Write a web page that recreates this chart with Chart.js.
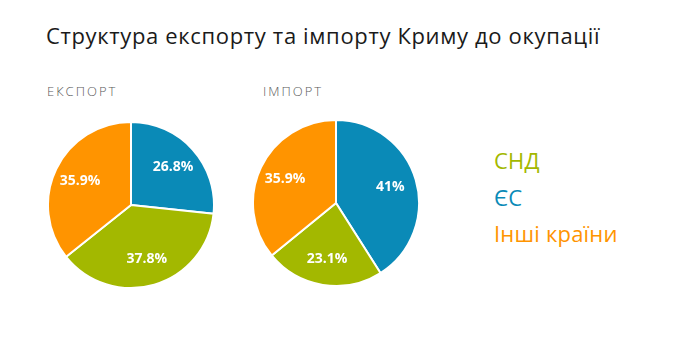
<!DOCTYPE html>
<html lang="uk">
<head>
<meta charset="utf-8">
<script src="https://cdn.jsdelivr.net/npm/chart.js@4/dist/chart.umd.min.js"></script>
<style>
  html, body { margin: 0; padding: 0; background: #fff; }
  body { width: 690px; height: 343px; position: relative; overflow: hidden; font-family: "Open Sans", "Noto Sans", sans-serif; }
  .title { position: absolute; left: 46px; top: 20px; font-size: 22px; font-weight: 500; color: #1a1a1a; white-space: nowrap; letter-spacing: 0.65px; }
  .sub { position: absolute; top: 82px; font-size: 13px; font-weight: 300; color: #5a5a5a; letter-spacing: 2px; }
  .pie { position: absolute; width: 168px; height: 168px; }
  .legend { position: absolute; left: 494px; font-size: 22px; font-weight: 500; white-space: nowrap; letter-spacing: 0.2px; }
</style>
</head>
<body>
<div class="title">Структура експорту та імпорту Криму до окупації</div>
<div class="sub" style="left:47px">ЕКСПОРТ</div>
<div class="sub" style="left:263px">ІМПОРТ</div>
<div class="pie" style="left:47px; top:121px"><canvas id="exportChart"></canvas></div>
<div class="pie" style="left:252px; top:119px"><canvas id="importChart"></canvas></div>
<div id="legend"></div>

<script>
// Trade partner groups, drawn clockwise from the top
const categories = ["ЄС", "СНД", "Інші країни"];
const exportValues = [26.8, 37.8, 35.9];
const importValues = [41, 23.1, 35.9];
const exportLabels = ["26.8%", "37.8%", "35.9%"];
const importLabels = ["41%", "23.1%", "35.9%"];
const sliceColors = ["#0a8ab7", "#a3b800", "#ff9400"];

// Legend order shown beside the pies
const legendOrder = ["СНД", "ЄС", "Інші країни"];
const legendTops = [145, 182, 218];

const legendBox = document.getElementById("legend");
legendOrder.forEach((name, i) => {
  const el = document.createElement("div");
  el.className = "legend";
  el.style.top = legendTops[i] + "px";
  el.style.color = sliceColors[categories.indexOf(name)];
  el.textContent = name;
  legendBox.appendChild(el);
});

// Writes each slice's percentage inside the slice
const sliceLabels = {
  id: "sliceLabels",
  afterDatasetsDraw(chart, args, opts) {
    const ctx = chart.ctx;
    const meta = chart.getDatasetMeta(0);
    ctx.save();
    ctx.fillStyle = "#ffffff";
    ctx.font = "bold 14px 'Open Sans', 'Noto Sans', sans-serif";
    ctx.textAlign = "center";
    ctx.textBaseline = "middle";
    meta.data.forEach((arc, i) => {
      const p = arc.getProps(["x", "y", "startAngle", "endAngle", "outerRadius"], true);
      const mid = (p.startAngle + p.endAngle) / 2;
      const r = p.outerRadius * 0.68;
      ctx.fillText(opts.labels[i], p.x + Math.cos(mid) * r, p.y + Math.sin(mid) * r);
    });
    ctx.restore();
  }
};

function makePie(id, values, labels) {
  return new Chart(document.getElementById(id), {
    type: "pie",
    data: {
      labels: categories,
      datasets: [{
        data: values,
        backgroundColor: sliceColors,
        borderColor: "#ffffff",
        borderWidth: 2,
        hoverOffset: 0
      }]
    },
    options: {
      responsive: true,
      maintainAspectRatio: false,
      animation: false,
      layout: { padding: 0 },
      plugins: {
        legend: { display: false },
        tooltip: { enabled: false },
        sliceLabels: { labels: labels }
      }
    },
    plugins: [sliceLabels]
  });
}

makePie("exportChart", exportValues, exportLabels);
makePie("importChart", importValues, importLabels);
</script>
</body>
</html>
